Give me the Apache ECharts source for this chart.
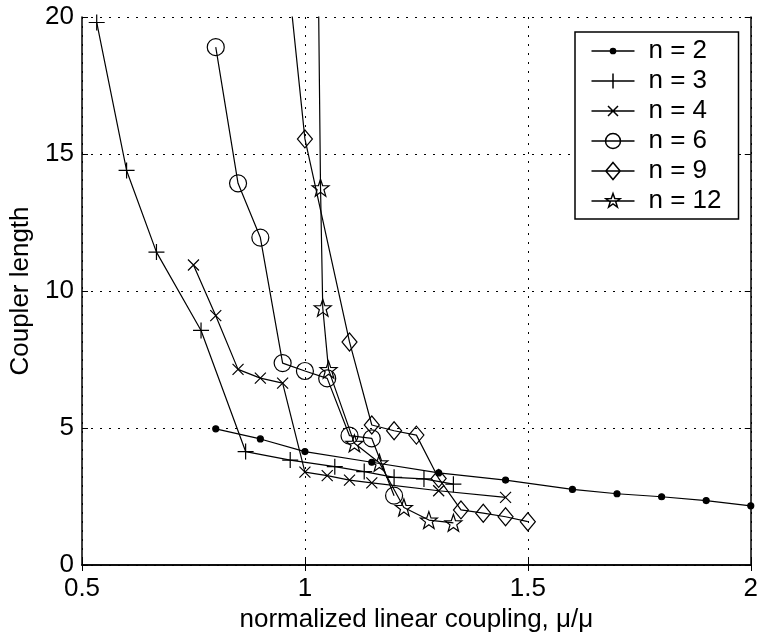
<!DOCTYPE html>
<html><head><meta charset="utf-8">
<script src="https://cdn.jsdelivr.net/npm/echarts@6/dist/echarts.min.js"></script>
<style>html,body{margin:0;padding:0;background:#fff}#c{width:761px;height:644px}</style>
</head><body><div id="c"></div>
<script>
const xTicks = [0.5, 1, 1.5, 2];
const yTicks = [0, 5, 10, 15, 20];
const seriesNames = ['n = 2', 'n = 3', 'n = 4', 'n = 6', 'n = 9', 'n = 12'];
const n2 = [[0.80,4.97],[0.90,4.60],[1.00,4.14],[1.15,3.75],[1.30,3.36],[1.45,3.10],[1.60,2.76],[1.70,2.60],[1.80,2.49],[1.90,2.35],[2.00,2.16]];
const n3 = [[0.533,19.8],[0.600,14.4],[0.667,11.42],[0.767,8.56],[0.867,4.14],[0.967,3.83],[1.067,3.59],[1.133,3.41],[1.200,3.20],[1.267,3.14],[1.333,2.95]];
const n4 = [[0.75,10.95],[0.80,9.10],[0.85,7.14],[0.90,6.82],[0.95,6.64],[1.00,3.39],[1.05,3.26],[1.10,3.10],[1.15,3.00],[1.30,2.71],[1.45,2.47]];
const n6 = [[0.80,18.9],[0.85,13.93],[0.90,11.95],[0.95,7.37],[1.00,7.08],[1.05,6.81],[1.10,4.72],[1.15,4.62],[1.20,2.53]];
const n9 = [[0.95,23.4],[1.00,15.55],[1.10,8.14],[1.15,5.11],[1.20,4.90],[1.25,4.74],[1.30,3.16],[1.35,2.01],[1.40,1.89],[1.45,1.76],[1.50,1.58]];
const n12 = [[1.028,24.5],[1.035,13.77],[1.040,9.39],[1.053,7.13],[1.111,4.44],[1.167,3.73],[1.222,2.10],[1.278,1.64],[1.333,1.54]];
const allData = [n2, n3, n4, n6, n9, n12];

const FONT = 'Liberation Sans, Arial, sans-serif';
const FS = 26;
const STAR = 'path://M0,-10L2.35,-3.24L9.51,-3.09L3.8,1.24L5.88,8.09L0,4L-5.88,8.09L-3.8,1.24L-9.51,-3.09L-2.35,-3.24Z';
const PLUS = 'path://M0,-10L0,10M-10,0L10,0';
const CROSS = 'path://M-10,-10L10,10M-10,10L10,-10';
// legend icons: horizontal line + marker, drawn in a 43x18 box
const LBOX = 'M-21.5,-9M21.5,9M-21.5,0L21.5,0';
const ICONS = [
  'path://' + LBOX + 'M-2.6,0A2.6,2.6 0 1,0 2.6,0A2.6,2.6 0 1,0 -2.6,0Z',
  'path://' + LBOX + 'M0,-7.5L0,7.5',
  'path://' + LBOX + 'M-5,-5L5,5M-5,5L5,-5',
  'path://' + LBOX + 'M-7.5,0A7.5,7.5 0 1,0 7.5,0A7.5,7.5 0 1,0 -7.5,0Z',
  'path://' + LBOX + 'M0,-8.5L7.2,0L0,8.5L-7.2,0Z',
  'path://' + LBOX + 'M0,-7.5L1.76,-2.43L7.13,-2.32L2.85,0.93L4.41,6.07L0,3L-4.41,6.07L-2.85,0.93L-7.13,-2.32L-1.76,-2.43Z'
];
const symbols = [
  {symbol:'circle', size:6, fill:'#000'},
  {symbol:PLUS, size:16, fill:'none'},
  {symbol:CROSS, size:11, fill:'none'},
  {symbol:'circle', size:17, fill:'none'},
  {symbol:'diamond', size:[15,18], fill:'none'},
  {symbol:STAR, size:17, fill:'none'}
];

const chart = echarts.init(document.getElementById('c'), null, {renderer:'canvas'});
const axisLine = {show:true, lineStyle:{color:'#000', width:1.5}};
const axisTick = {show:true, inside:true, length:6, lineStyle:{color:'#000', width:1}};
const option = {
  animation:false,
  backgroundColor:'#fff',
  grid:{left:82, right:9, top:17, bottom:79, containLabel:false},
  xAxis:[{
    type:'value', min:xTicks[0], max:xTicks[xTicks.length-1], interval:0.5,
    axisLine:axisLine, axisTick:axisTick,
    axisLabel:{color:'#000', fontSize:FS, fontFamily:FONT, margin:11, formatter:v=>String(v)},
    splitLine:{show:true, lineStyle:{color:'#000', type:[2,7], width:1}},
    name:'normalized linear coupling, \u03bc/\u03bc', nameLocation:'middle', nameGap:41,
    nameTextStyle:{color:'#000', fontSize:FS, fontFamily:FONT, verticalAlign:'top'}
  },{
    type:'value', position:'top', min:xTicks[0], max:xTicks[xTicks.length-1], interval:0.5,
    axisLine:axisLine, axisTick:axisTick,
    axisLabel:{show:false}, splitLine:{show:false}
  }],
  yAxis:[{
    type:'value', min:yTicks[0], max:yTicks[yTicks.length-1], interval:5,
    axisLine:axisLine, axisTick:axisTick,
    axisLabel:{color:'#000', fontSize:FS, fontFamily:FONT, margin:8},
    splitLine:{show:true, lineStyle:{color:'#000', type:[2,7], width:1}},
    name:'Coupler length', nameLocation:'middle', nameGap:43, nameRotate:90,
    nameTextStyle:{color:'#000', fontSize:FS, fontFamily:FONT}
  },{
    type:'value', position:'right', min:yTicks[0], max:yTicks[yTicks.length-1], interval:5,
    axisLine:axisLine, axisTick:axisTick,
    axisLabel:{show:false}, splitLine:{show:false}
  }],
  legend:{
    orient:'vertical', left:575, top:32,
    padding:[6,17,5,14],
    itemWidth:43, itemHeight:18, itemGap:4,
    symbolKeepAspect:true,
    backgroundColor:'#fff', borderColor:'#000', borderWidth:1.5,
    textStyle:{color:'#000', fontSize:FS, fontFamily:FONT, padding:[0,0,0,9]},
    data:seriesNames.map((n,i)=>({name:n, icon:ICONS[i],
      itemStyle:{color:symbols[i].fill, borderColor:'#000', borderWidth:1.5}}))
  },
  series: allData.map((d,i)=>({
    name:seriesNames[i], type:'line', data:d, xAxisIndex:0, yAxisIndex:0,
    symbol:symbols[i].symbol, symbolSize:symbols[i].size, showAllSymbol:true,
    clip:true,
    lineStyle:{color:'#000', width:1.2},
    itemStyle:{color:symbols[i].fill, borderColor:'#000', borderWidth:1.2},
    emphasis:{disabled:true}
  }))
};
chart.setOption(option);
</script></body></html>
